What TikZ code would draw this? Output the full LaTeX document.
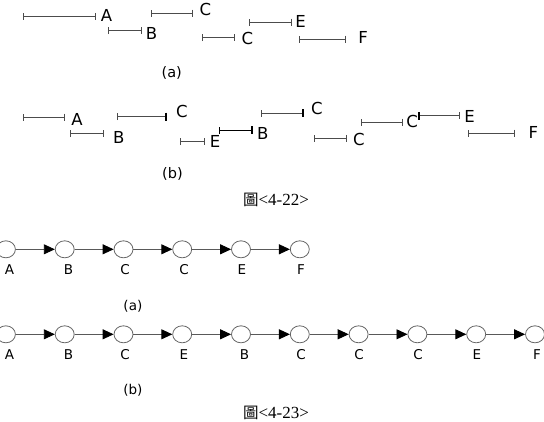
\documentclass[tikz,border=0pt]{standalone}
\usepackage{fontspec}
\setmainfont{DejaVu Sans}
\newfontfamily\cjk{Noto Sans CJK TC}
\newfontfamily\capfont{Liberation Serif}
\usetikzlibrary{arrows.meta,shapes.geometric}
\tikzset{
  seg/.style={draw=black!70, line width=1pt, {Bar[width=7pt]}-{Bar[width=7pt]}},
  segR/.style={draw=black!70, line width=1pt, {Bar[width=7pt]}-{Bar[width=8pt,line width=2pt,black]}},
  segL/.style={draw=black!70, line width=1pt, {Bar[width=8pt,line width=2pt,black]}-{Bar[width=7pt]}},
  tag/.style={font=\fontsize{16.5}{16.5}\selectfont, inner sep=0pt},
  sub/.style={font=\fontsize{14.5}{15}\selectfont, inner sep=0pt},
  st/.style={ellipse, draw=black!60, line width=0.8pt, minimum width=19pt, minimum height=17pt, inner sep=0pt},
  go/.style={draw=black!65, line width=0.9pt, -{Triangle[length=11pt,width=10pt,black]}},
  lab/.style={font=\fontsize{13.5}{13.5}\selectfont, inner sep=0pt},
  capt/.style={font=\capfont\fontsize{17}{17}\selectfont, inner sep=0pt}
}
\begin{document}
\begin{tikzpicture}[x=1pt, y=-1pt]
	\useasboundingbox (0,0) rectangle (544,421);
	
	% Khoảng thời gian (a)
	\draw[seg] (22.6,16.3) -- (96,16.3);
	\node[tag] (ta1) at (106.5,15.6) {A};
	\draw[seg] (108,30.5) -- (142,30.5);
	\node[tag] (ta2) at (151.6,33.7) {B};
	\draw[seg] (150.6,13.2) -- (193,13.2);
	\node[tag] (ta3) at (205.4,9.4) {C};
	\draw[seg] (202,37.5) -- (235,37.5);
	\node[tag] (ta4) at (247.4,38.9) {C};
	\draw[seg] (249,22.2) -- (291.5,22.2);
	\node[tag] (ta5) at (300.5,21.5) {E};
	\draw[seg] (299,39.2) -- (346,39.2);
	\node[tag] (ta6) at (363,37.5) {F};
	\node[sub] (suba) at (171.8,72.9) {(a)};
	
	% Khoảng thời gian (b)
	\draw[seg] (22.6,117.2) -- (65.2,117.2);
	\node[tag] (tb1) at (77,119.3) {A};
	\draw[seg] (70,133.5) -- (104,133.5);
	\node[tag] (tb2) at (118.7,137) {B};
	\draw[segR] (116.6,116.5) -- (167.2,116.5);
	\node[tag] (tb3) at (182,111.7) {C};
	\draw[seg] (180.4,141.5) -- (205.4,141.5);
	\node[tag] (tb4) at (215,141.1) {E};
	\draw[segR, draw=black] (219.3,130) -- (253.3,130);
	\node[tag] (tb5) at (262.7,133.2) {B};
	\draw[segR] (261,113.4) -- (303.6,113.4);
	\node[tag] (tb6) at (316.8,108.9) {C};
	\draw[seg] (313.7,138.4) -- (347,138.4);
	\node[tag] (tb7) at (359,139) {C};
	\draw[seg] (360.9,122) -- (402.5,122);
	\node[tag] (tb8) at (412.2,121.7) {C};
	\draw[segL] (418,115.8) -- (460,115.8);
	\node[tag] (tb9) at (469.5,116.5) {E};
	\draw[seg] (468,133.2) -- (515.3,133.2);
	\node[tag] (tb10) at (533.3,132) {F};
	\node[sub] (subb) at (172.4,173.8) {(b)};
	
	\node[capt] (cap1) at (276,199.5) {{\cjk\fontsize{15.5}{15.5}\selectfont 圖}<4-22>};
	
	% Chuỗi (a)
	\node[st] (a1) at (5.9,249.3) {};
	\node[st] (a2) at (64.7,249.3) {};
	\node[st] (a3) at (123.5,249.3) {};
	\node[st] (a4) at (182.2,249.3) {};
	\node[st] (a5) at (241,249.3) {};
	\node[st] (a6) at (299.8,249.3) {};
	\draw[go] (a1) -- (a2);
	\draw[go] (a2) -- (a3);
	\draw[go] (a3) -- (a4);
	\draw[go] (a4) -- (a5);
	\draw[go] (a5) -- (a6);
	\node[lab] (la1) at (9.4,270) {A};
	\node[lab] (la2) at (68.4,270) {B};
	\node[lab] (la3) at (125,270) {C};
	\node[lab] (la4) at (184,270) {C};
	\node[lab] (la5) at (242,270) {E};
	\node[lab] (la6) at (301,270) {F};
	\node[lab] (suba2) at (132.9,306.5) {(a)};
	
	% Chuỗi (b)
	\node[st] (b1) at (5.9,334.3) {};
	\node[st] (b2) at (64.7,334.3) {};
	\node[st] (b3) at (123.5,334.3) {};
	\node[st] (b4) at (182.2,334.3) {};
	\node[st] (b5) at (241,334.3) {};
	\node[st] (b6) at (299.8,334.3) {};
	\node[st] (b7) at (358.6,334.3) {};
	\node[st] (b8) at (417.4,334.3) {};
	\node[st] (b9) at (476.2,334.3) {};
	\node[st] (b10) at (535,334.3) {};
	\draw[go] (b1) -- (b2);
	\draw[go] (b2) -- (b3);
	\draw[go] (b3) -- (b4);
	\draw[go] (b4) -- (b5);
	\draw[go] (b5) -- (b6);
	\draw[go] (b6) -- (b7);
	\draw[go] (b7) -- (b8);
	\draw[go] (b8) -- (b9);
	\draw[go] (b9) -- (b10);
	\node[lab] (lb1) at (9.4,355) {A};
	\node[lab] (lb2) at (68.4,355) {B};
	\node[lab] (lb3) at (125,355) {C};
	\node[lab] (lb4) at (184,355) {E};
	\node[lab] (lb5) at (244.6,355) {B};
	\node[lab] (lb6) at (301,355) {C};
	\node[lab] (lb7) at (359,355) {C};
	\node[lab] (lb8) at (418,355) {C};
	\node[lab] (lb9) at (477,355) {E};
	\node[lab] (lb10) at (537,355) {F};
	\node[lab] (subb2) at (132.9,390.5) {(b)};
	
	\node[capt] (cap2) at (276,412.5) {{\cjk\fontsize{15.5}{15.5}\selectfont 圖}<4-23>};
\end{tikzpicture}
\end{document}
